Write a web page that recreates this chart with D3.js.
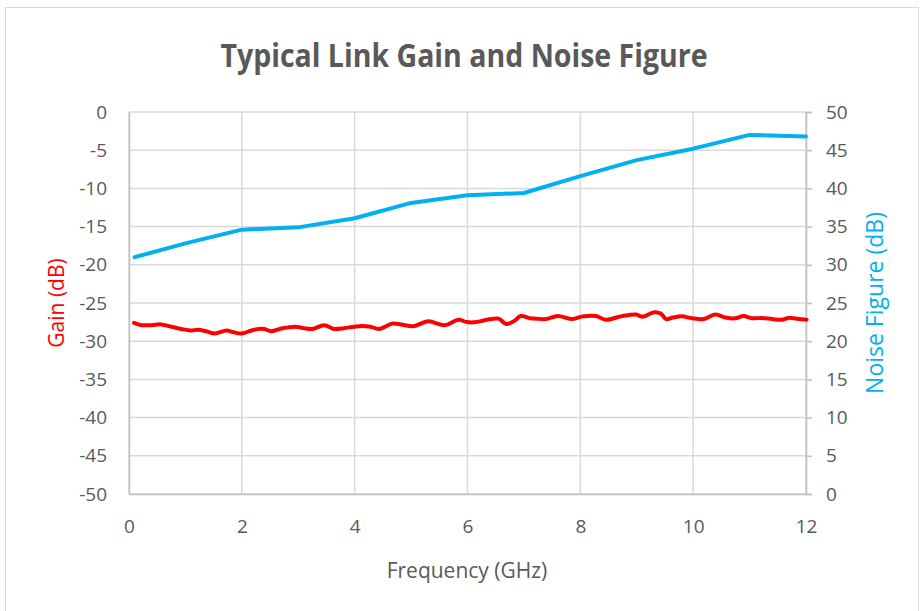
<!DOCTYPE html>
<html><head><meta charset="utf-8">
<script src="https://cdn.jsdelivr.net/npm/d3@7"></script>
<style>body{margin:0;background:#fff;}svg{display:block;}</style>
</head><body>
<script>
const title = "Typical Link Gain and Noise Figure";
const xTicks = [0, 2, 4, 6, 8, 10, 12];
const gainTicks = [0, -5, -10, -15, -20, -25, -30, -35, -40, -45, -50];
const nfTicks = [50, 45, 40, 35, 30, 25, 20, 15, 10, 5, 0];
const nfFreq = [0.1, 1, 2, 3, 4, 5, 6, 7, 8, 9, 10, 11, 12];
const nfValues = [31.0, 32.8, 34.6, 34.9, 36.1, 38.1, 39.1, 39.4, 41.6, 43.7, 45.2, 47.0, 46.8];
const gainFreq = [0.09,0.22,0.40,0.57,0.75,0.93,1.10,1.22,1.37,1.52,1.73,1.84,1.99,2.17,2.29,2.40,2.52,2.72,2.95,3.10,3.25,3.46,3.63,3.81,3.99,4.13,4.28,4.43,4.67,4.82,5.04,5.30,5.60,5.84,5.99,6.16,6.34,6.55,6.69,6.84,6.94,7.11,7.23,7.39,7.60,7.86,8.04,8.28,8.45,8.72,8.99,9.10,9.31,9.43,9.52,9.64,9.80,9.98,10.19,10.39,10.57,10.75,10.89,11.04,11.22,11.40,11.57,11.69,11.87,12.01];
const gainValues = [-27.6,-27.9,-27.9,-27.8,-28.1,-28.4,-28.6,-28.5,-28.7,-29.0,-28.6,-28.8,-29.0,-28.6,-28.4,-28.4,-28.7,-28.3,-28.1,-28.3,-28.4,-27.9,-28.4,-28.3,-28.1,-28.0,-28.1,-28.4,-27.7,-27.8,-28.05,-27.4,-27.9,-27.2,-27.5,-27.5,-27.2,-27.05,-27.75,-27.3,-26.7,-27.0,-27.05,-27.1,-26.7,-27.1,-26.75,-26.7,-27.2,-26.75,-26.5,-26.8,-26.2,-26.4,-27.1,-26.9,-26.75,-27.0,-27.1,-26.5,-26.9,-27.0,-26.7,-27.0,-26.95,-27.1,-27.2,-26.95,-27.1,-27.2];

const W = 924, H = 611;
const m = {left: 129, right: 806, top: 112, bottom: 494};
const svg = d3.select("body").append("svg").attr("width", W).attr("height", H);
svg.append("rect").attr("x", 5.5).attr("y", 7.5).attr("width", 913).attr("height", 640)
  .attr("fill", "#fff").attr("stroke", "#d9d9d9").attr("stroke-width", 1);

const x = d3.scaleLinear().domain([0, 12]).range([m.left, m.right]);
const yG = d3.scaleLinear().domain([-50, 0]).range([m.bottom, m.top]);
const yN = d3.scaleLinear().domain([0, 50]).range([m.bottom, m.top]);
const font = "'Open Sans', sans-serif";
const grey = "#595959";
const fmt = d => String(d);

// gridlines
svg.append("g").selectAll("line").data(gainTicks).join("line")
  .attr("x1", m.left).attr("x2", m.right).attr("y1", d => yG(d)).attr("y2", d => yG(d))
  .attr("stroke", "#d9d9d9").attr("stroke-width", 1.5);
svg.append("g").selectAll("line").data(xTicks).join("line")
  .attr("x1", d => x(d)).attr("x2", d => x(d)).attr("y1", m.top).attr("y2", m.bottom)
  .attr("stroke", "#d9d9d9").attr("stroke-width", 1.5);

// axes
const axL = svg.append("g").attr("transform", `translate(${m.left},0)`)
  .call(d3.axisLeft(yG).tickValues(gainTicks).tickSize(0).tickPadding(22).tickFormat(fmt));
const axR = svg.append("g").attr("transform", `translate(${m.right},0)`)
  .call(d3.axisRight(yN).tickValues(nfTicks).tickSize(6).tickPadding(14).tickFormat(fmt));
const axB = svg.append("g").attr("transform", `translate(0,${m.bottom})`)
  .call(d3.axisBottom(x).tickValues(xTicks).tickSize(0).tickPadding(26).tickFormat(fmt));
[axL, axR, axB].forEach(a => {
  a.select(".domain").attr("stroke", "#bfbfbf").attr("stroke-width", 1.5);
  a.selectAll(".tick line").attr("stroke", "#bfbfbf").attr("stroke-width", 1.5);
  a.selectAll("text").attr("fill", grey).style("font-family", font).style("font-size", "19px");
});

// lines
const lineN = d3.line().x((d, i) => x(nfFreq[i])).y(d => yN(d));
svg.append("path").datum(nfValues).attr("d", lineN).attr("fill", "none")
  .attr("stroke", "#00B0F0").attr("stroke-width", 4).attr("stroke-linejoin", "round").attr("stroke-linecap", "round");
const lineG = d3.line().x((d, i) => x(gainFreq[i])).y(d => yG(d)).curve(d3.curveCatmullRom);
svg.append("path").datum(gainValues).attr("d", lineG).attr("fill", "none")
  .attr("stroke", "#FF0000").attr("stroke-width", 4).attr("stroke-linejoin", "round").attr("stroke-linecap", "round");

// titles
svg.append("text").attr("transform", "translate(464,67) scale(0.92,1.05)").attr("text-anchor", "middle")
  .attr("fill", grey).style("font-family", font).style("font-size", "31px").style("font-weight", "bold").text(title);
svg.append("text").attr("x", 467).attr("y", 578).attr("text-anchor", "middle")
  .attr("fill", grey).style("font-family", font).style("font-size", "21px").text("Frequency (GHz)");
svg.append("text").attr("transform", `translate(64,${(m.top + m.bottom) / 2}) rotate(-90)`).attr("text-anchor", "middle")
  .attr("fill", "#FF0000").style("font-family", font).style("font-size", "21px").text("Gain (dB)");
svg.append("text").attr("transform", `translate(883,${(m.top + m.bottom) / 2}) rotate(-90)`).attr("text-anchor", "middle")
  .attr("fill", "#00B0F0").style("font-family", font).style("font-size", "23px").text("Noise Figure (dB)");
</script>
</body></html>
